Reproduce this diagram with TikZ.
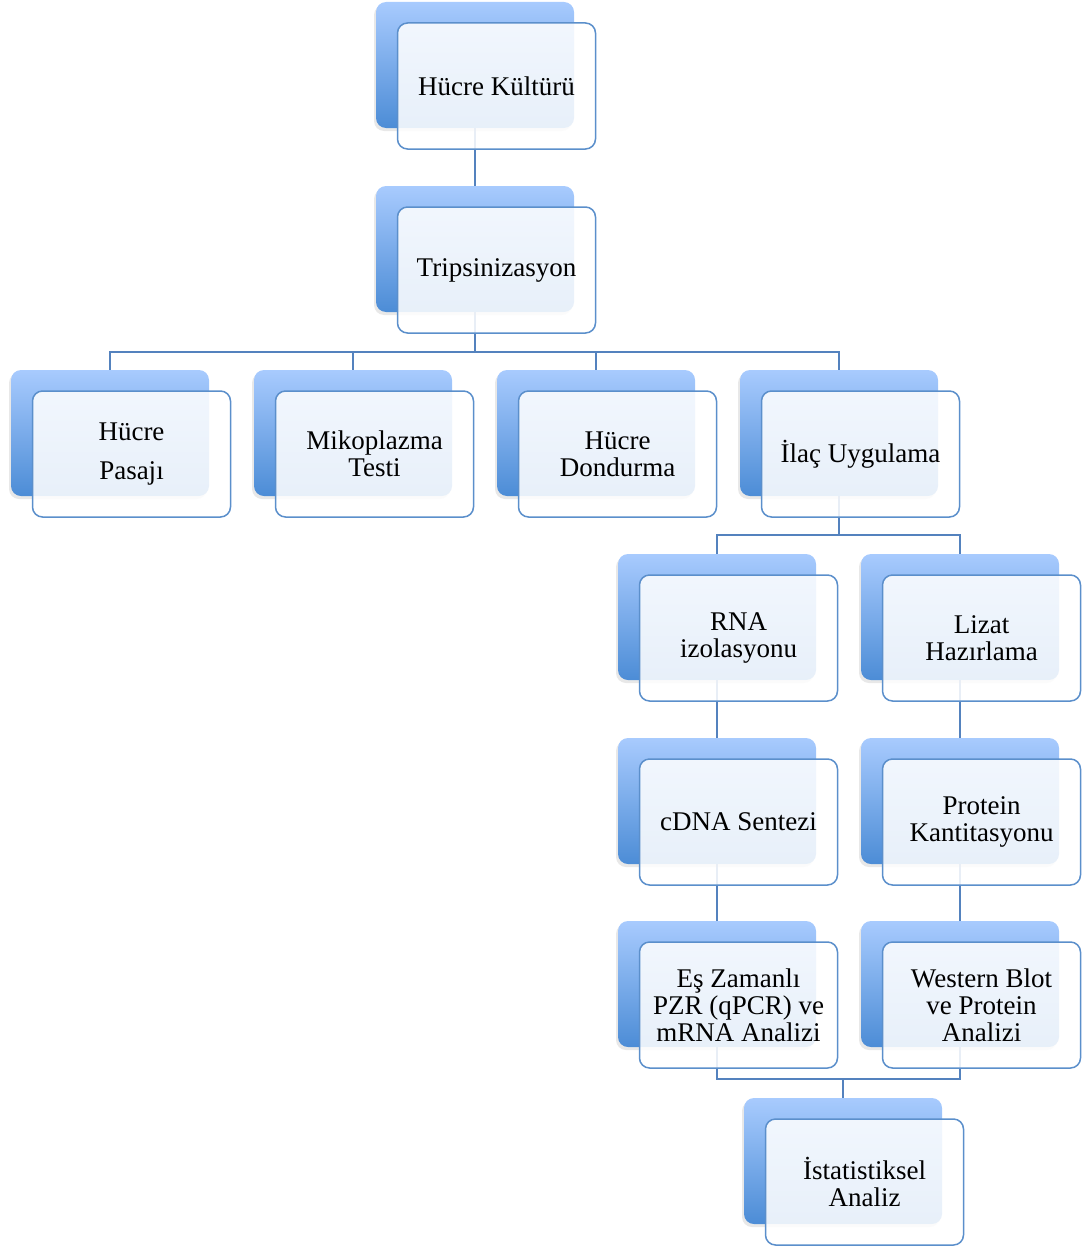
\documentclass[tikz,border=0pt]{standalone}
\usepackage{fontspec}
\setmainfont{Liberation Serif}
\usetikzlibrary{shadows,backgrounds}
\definecolor{boxTop}{RGB}{168,203,254}
\definecolor{boxBottom}{RGB}{76,140,214}
\definecolor{boxLine}{RGB}{91,143,203}
\definecolor{connLine}{RGB}{84,130,190}

\begin{document}
\begin{tikzpicture}
[x=1pt,y=-1pt,
  backDecorate/.style={rectangle,rounded corners=10pt,minimum width=198pt,
    minimum height=126pt,inner sep=0pt,top color=boxTop,bottom color=boxBottom,
    drop shadow={shadow xshift=-2pt,shadow yshift=-3pt,opacity=.18}},%
  frontDecorate/.style={rectangle,rounded corners=10pt,minimum width=198pt,
    minimum height=126pt,inner sep=2pt,draw=boxLine,line width=1.5pt,
    fill=white,fill opacity=.87,text opacity=1,align=center,
    font=\fontsize{27}{27}\selectfont},%
  lineDecorate/.style={-,draw=connLine,line width=1.6pt}]
\useasboundingbox (0,0) rectangle (1082,1247);
%% boxes: back panel and front card
\foreach \nodename/\x/\y/\label in {
  kultur/376/2/{Hücre Kültürü}, tripsin/376/186/{Tripsinizasyon},
  %% third row
  pasaj/11/370/{Hücre\\[12pt]Pasajı}, mikop/254/370/{Mikoplazma\\Testi},
  dondur/497/370/{Hücre\\Dondurma}, ilac/740/370/{İlaç Uygulama},
  %% two branches
  rna/618/554/{RNA\\izolasyonu}, lizat/861/554/{Lizat\\Hazırlama},
  cdna/618/738/{cDNA Sentezi}, protein/861/738/{Protein\\Kantitasyonu},
  pzr/618/921/{Eş Zamanlı\\PZR (qPCR) ve\\mRNA Analizi},
  western/861/921/{Western Blot\\ve Protein\\Analizi},
  istat/744/1098/{İstatistiksel\\Analiz}}
{
  \node (\nodename) at (\x+99,\y+63) [backDecorate] {};
  \node (\nodename-f) at (\x+120.5,\y+84) [frontDecorate] {\label};
}
%% connectors
\begin{scope}[on background layer]
\draw[lineDecorate] (kultur.south) -- (tripsin.north);
\foreach \child in {pasaj,mikop,dondur,ilac}
  \draw[lineDecorate] (tripsin.south) -- ++(0,40) -| (\child.north);
\foreach \child in {rna,lizat}
  \draw[lineDecorate] (ilac.south) -- ++(0,39) -| (\child.north);
\foreach \startnode/\endnode in {rna/cdna, cdna/pzr, lizat/protein, protein/western}
  \draw[lineDecorate] (\startnode.south) -- (\endnode.north);
\foreach \parent in {pzr,western}
  \draw[lineDecorate] (\parent.south) -- ++(0,32) -| (istat.north);
\end{scope}
\end{tikzpicture}
\end{document}
